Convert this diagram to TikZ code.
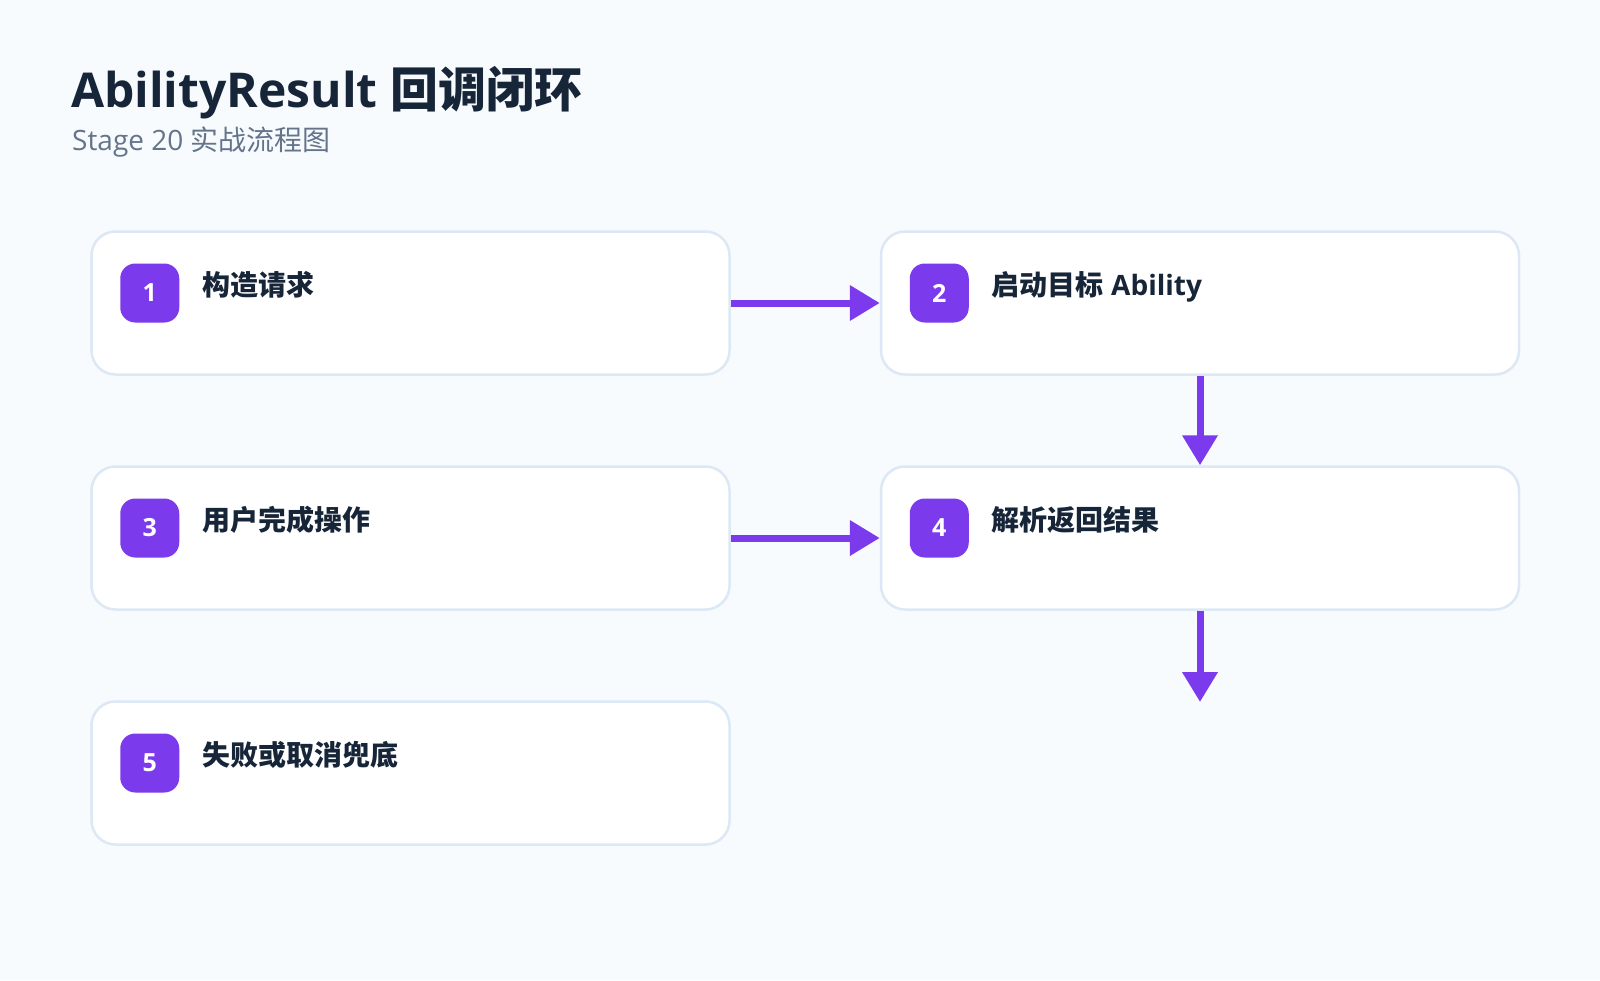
\documentclass[tikz,border=0pt]{standalone}
\usepackage{fontspec}
\setmainfont{Open Sans}
\newfontfamily\cjk{Noto Sans CJK SC}
\usetikzlibrary{arrows.meta}
\definecolor{bgc}{HTML}{F7FBFE}
\definecolor{bordc}{HTML}{DCE8F5}
\definecolor{purp}{HTML}{7C3AED}
\definecolor{ink}{HTML}{172538}
\definecolor{subc}{HTML}{64748B}
\tikzset{
  stepbox/.style={draw=bordc, line width=2.5pt, fill=white, rounded corners=24pt,
    minimum width=638pt, minimum height=143pt, inner sep=0pt},
  badge/.style={fill=purp, rounded corners=15pt, minimum width=59pt, minimum height=59pt,
    inner sep=0pt, text=white, font=\fontsize{25}{30}\selectfont\bfseries},
  steplabel/.style={anchor=base west, inner sep=0pt, text=ink,
    font=\fontsize{28}{34}\selectfont\bfseries},
  flow/.style={draw=purp, line width=7pt, -{Triangle[length=30pt,width=34pt]}, shorten >=0pt},
}
\begin{document}
\begin{tikzpicture}[x=1pt,y=-1pt]
\fill[bgc] (0,0) rectangle (1600,980);
\useasboundingbox (0,0) rectangle (1600,980);

\node[anchor=base west, inner sep=0pt, text=ink, font=\fontsize{48}{56}\selectfont\bfseries]
  (title) at (71,107) {AbilityResult {\cjk 回调闭环}};
\node[anchor=base west, inner sep=0pt, text=subc, font=\fontsize{28}{33}\selectfont]
  (sub) at (72,150) {Stage 20 {\cjk 实战流程图}};

\node[stepbox] (b1) at (410.5,303) {};
\node[stepbox] (b2) at (1200,303) {};
\node[stepbox] (b3) at (410.5,538) {};
\node[stepbox] (b4) at (1200,538) {};
\node[stepbox] (b5) at (410.5,773) {};

\foreach \b/\n in {b1/1,b2/2,b3/3,b4/4,b5/5}{
  \node[badge] (\b n) at ([xshift=59.5pt,yshift=10pt]\b.west) {\n};
}
\node[steplabel] (b1t) at ([xshift=112pt,yshift=8pt]b1.west) {\cjk 构造请求};
\node[steplabel] (b2t) at ([xshift=112pt,yshift=8pt]b2.west) {{\cjk 启动目标} Ability};
\node[steplabel] (b3t) at ([xshift=112pt,yshift=8pt]b3.west) {\cjk 用户完成操作};
\node[steplabel] (b4t) at ([xshift=112pt,yshift=8pt]b4.west) {\cjk 解析返回结果};
\node[steplabel] (b5t) at ([xshift=112pt,yshift=8pt]b5.west) {\cjk 失败或取消兜底};

\coordinate (c6) at (1200,702);
\draw[flow] (b1.east) -- (b2.west);
\draw[flow] (b3.east) -- (b4.west);
\draw[flow] (b2.south) -- (b4.north);
\draw[flow] (b4.south) -- (c6);
\end{tikzpicture}
\end{document}
